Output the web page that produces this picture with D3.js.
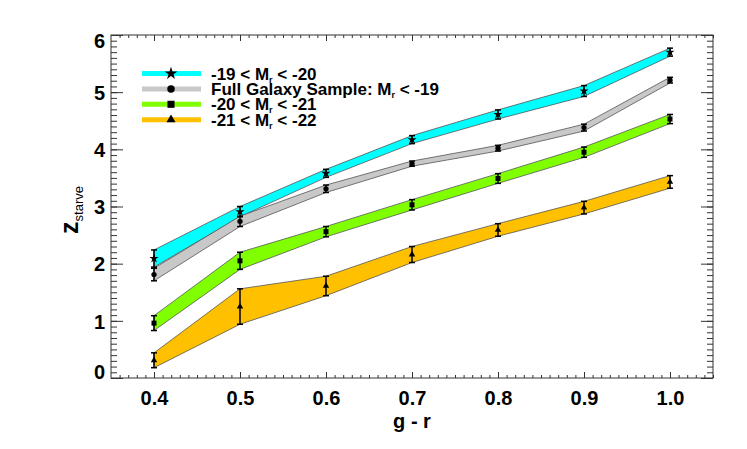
<!doctype html>
<html lang=en>

<head>
  <meta charset=utf-8>
  <title>z_starve vs g - r</title>
  <style>
    body { margin: 0; background: white; }
    svg { display: block; font-family: "Liberation Sans", Arial, Helvetica, sans-serif; }
  </style>
</head>

<body>
  <svg></svg>
  <script src="https://d3js.org/d3.v7.min.js"></script>
  <script>
    var width = 747;
    var height = 449;

    // colour bins (g - r)
    var gr = [0.4, 0.5, 0.6, 0.7, 0.8, 0.9, 1.0];

    // -19 < Mr < -20
    var faint = [2.09, 2.91, 3.58, 4.17, 4.61, 5.02, 5.70];
    var faintErr = [0.15, 0.09, 0.07, 0.07, 0.08, 0.095, 0.07];
    // full sample Mr < -19
    var full = [1.81, 2.74, 3.31, 3.75, 4.02, 4.38, 5.21];
    var fullErr = [0.11, 0.09, 0.065, 0.045, 0.05, 0.06, 0.05];
    // -20 < Mr < -21
    var mid = [0.96, 2.05, 2.56, 3.03, 3.49, 3.95, 4.53];
    var midErr = [0.13, 0.15, 0.09, 0.09, 0.085, 0.09, 0.08];
    // -21 < Mr < -22
    var bright = [0.31, 1.25, 1.61, 2.16, 2.59, 2.98, 3.43];
    var brightErr = [0.13, 0.31, 0.17, 0.14, 0.11, 0.11, 0.11];

    var xTicks = [0.4, 0.5, 0.6, 0.7, 0.8, 0.9, 1.0];
    var yTicks = [0, 1, 2, 3, 4, 5, 6];

    var series = [
      { pre: "-19 < M", post: " < -20", vals: faint, errs: faintErr, color: "#00ffff", sym: d3.symbolStar, size: 26 },
      { pre: "Full Galaxy Sample: M", post: " < -19", vals: full, errs: fullErr, color: "#c8c8c8", sym: d3.symbolCircle, size: 22 },
      { pre: "-20 < M", post: " < -21", vals: mid, errs: midErr, color: "#7fff00", sym: d3.symbolSquare, size: 25 },
      { pre: "-21 < M", post: " < -22", vals: bright, errs: brightErr, color: "#ffc000", sym: d3.symbolTriangle, size: 18 }
    ];

    var pLeft = 111, pRight = 713, pTop = 35, pBottom = 378;

    var svg = d3.select("svg")
      .attr("width", width)
      .attr("height", height);

    var x = d3.scaleLinear().domain([0.35, 1.05]).range([pLeft, pRight]);
    var y = d3.scaleLinear().domain([0, 6]).range([pBottom, pTop]);

    var axisColor = "#333";

    function styleAxis(g) {
      g.select(".domain").remove();
      g.selectAll("line").attr("stroke", axisColor);
    }

    var xMinor = d3.range(36, 106).map(function (d) { return d / 100; });
    var yMinor = d3.range(0, 61).map(function (d) { return d / 10; });

    // minor ticks
    svg.append("g").attr("transform", "translate(0," + pBottom + ")")
      .call(d3.axisBottom(x).tickValues(xMinor).tickSize(-3).tickFormat(""))
      .call(styleAxis);
    svg.append("g").attr("transform", "translate(0," + pTop + ")")
      .call(d3.axisTop(x).tickValues(xMinor).tickSize(-3).tickFormat(""))
      .call(styleAxis);
    svg.append("g").attr("transform", "translate(" + pLeft + ",0)")
      .call(d3.axisLeft(y).tickValues(yMinor).tickSize(-6).tickFormat(""))
      .call(styleAxis);
    svg.append("g").attr("transform", "translate(" + pRight + ",0)")
      .call(d3.axisRight(y).tickValues(yMinor).tickSize(-6).tickFormat(""))
      .call(styleAxis);

    // major ticks + labels
    svg.append("g").attr("transform", "translate(0," + pBottom + ")")
      .call(d3.axisBottom(x).tickValues(xTicks).tickSize(-6).tickPadding(13).tickFormat(d3.format(".1f")))
      .call(styleAxis);
    svg.append("g").attr("transform", "translate(0," + pTop + ")")
      .call(d3.axisTop(x).tickValues(xTicks).tickSize(-6).tickFormat(""))
      .call(styleAxis);
    var yAxis = svg.append("g").attr("transform", "translate(" + pLeft + ",0)")
      .call(d3.axisLeft(y).tickValues(yTicks).tickSize(-12).tickPadding(6).tickFormat(d3.format("d")))
      .call(styleAxis);
    svg.append("g").attr("transform", "translate(" + pRight + ",0)")
      .call(d3.axisRight(y).tickValues(yTicks).tickSize(-12).tickFormat(""))
      .call(styleAxis);

    svg.selectAll("g text")
      .attr("fill", "black")
      .attr("font-size", 20)
      .attr("font-weight", "bold")
      .attr("font-family", "Liberation Sans, Arial, sans-serif");

    // end labels sit inside the axis range
    yAxis.selectAll(".tick text").attr("dy", function (d) {
      if (d === 0) return "0.0em";
      if (d === 6) return "0.64em";
      return "0.36em";
    });

    svg.append("rect")
      .attr("x", pLeft).attr("y", pTop)
      .attr("width", pRight - pLeft).attr("height", pBottom - pTop)
      .attr("fill", "none").attr("stroke", axisColor).attr("stroke-width", 1);

    // bands, error bars, markers
    var plot = svg.append("g");

    var area = d3.area()
      .x(function (d, i) { return x(gr[i]); })
      .y0(function (d) { return y(d[0] - d[1]); })
      .y1(function (d) { return y(d[0] + d[1]); });

    series.forEach(function (s) {
      var pts = s.vals.map(function (v, i) { return [v, s.errs[i]]; });
      plot.append("path")
        .datum(pts)
        .attr("d", area)
        .attr("fill", s.color)
        .attr("stroke", "#555")
        .attr("stroke-width", 0.8);
    });

    series.forEach(function (s) {
      var g = plot.append("g");
      s.vals.forEach(function (v, i) {
        var cx = x(gr[i]);
        var lo = y(v - s.errs[i]), hi = y(v + s.errs[i]);
        g.append("line").attr("x1", cx).attr("x2", cx).attr("y1", lo).attr("y2", hi)
          .attr("stroke", "black").attr("stroke-width", 1.5);
        [lo, hi].forEach(function (yy) {
          g.append("line").attr("x1", cx - 3).attr("x2", cx + 3).attr("y1", yy).attr("y2", yy)
            .attr("stroke", "black").attr("stroke-width", 1.5);
        });
        g.append("path")
          .attr("d", d3.symbol().type(s.sym).size(s.size)())
          .attr("transform", "translate(" + cx + "," + y(v) + ")")
          .attr("fill", "black");
      });
    });

    // legend
    var legend = svg.append("g");
    series.forEach(function (s, i) {
      var ly = 73.5 + i * 15.4;
      legend.append("line")
        .attr("x1", 142).attr("x2", 201).attr("y1", ly).attr("y2", ly)
        .attr("stroke", s.color).attr("stroke-width", 5);
      legend.append("path")
        .attr("d", d3.symbol().type(s.sym).size(s.size * 2)())
        .attr("transform", "translate(171," + ly + ")")
        .attr("fill", "black");
      var t = legend.append("text")
        .attr("x", 211).attr("y", ly + 6)
        .attr("font-size", 17).attr("font-weight", "bold").attr("fill", "black");
      t.append("tspan").text(s.pre);
      t.append("tspan").attr("font-size", 9).attr("dy", 3).text("r");
      t.append("tspan").attr("dy", -3).text(s.post);
    });

    // axis titles
    svg.append("text")
      .attr("x", (pLeft + pRight) / 2).attr("y", 428)
      .attr("text-anchor", "middle")
      .attr("font-size", 20).attr("font-weight", "bold")
      .text("g - r");

    var yt = svg.append("text")
      .attr("transform", "translate(78,210) rotate(-90)")
      .attr("text-anchor", "middle");
    yt.append("tspan").attr("font-size", 25).attr("font-weight", "bold").text("z");
    yt.append("tspan").attr("font-size", 13).attr("dy", 5).text("starve");
  </script>
</body>

</html>
